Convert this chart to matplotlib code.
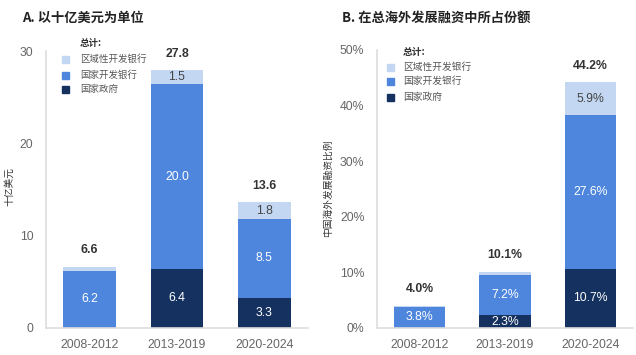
import matplotlib
matplotlib.use("Agg")
import matplotlib.pyplot as plt
from matplotlib.patches import Rectangle
import numpy as np

plt.rcParams['font.family'] = ['Liberation Sans', 'Noto Sans CJK SC', 'DejaVu Sans']
CJK = ['Noto Sans CJK SC', 'DejaVu Sans']

periods = ["2008-2012", "2013-2019", "2020-2024"]
series_names = ["区域性开发银行", "国家开发银行", "国家政府"]

# Panel A: billions USD
a_gov = [0.0, 6.4, 3.3]
a_dev = [6.2, 20.0, 8.5]
a_reg = [0.4, 1.5, 1.8]
a_tot = [6.6, 27.8, 13.6]

# Panel B: share of total overseas development finance (%)
b_gov = [0.0, 2.3, 10.7]
b_dev = [3.8, 7.2, 27.6]
b_reg = [0.2, 0.6, 5.9]
b_tot = [4.0, 10.1, 44.2]

c_reg = "#c3d7f2"
c_dev = "#4d86dc"
c_gov = "#15315f"
tick_col = "#666666"
spine_col = "#dddddd"

W, H = 636, 355
fig = plt.figure(figsize=(W/100, H/100), dpi=100)

def px(x0, y0, x1, y1):
    return [x0/W, 1 - y1/H, (x1-x0)/W, (y1-y0)/H]

axA = fig.add_axes(px(46, 51, 308, 328))
axB = fig.add_axes(px(377, 50, 633, 328))

def draw(ax, gov, dev, reg, tot, ymax, yticks, fmt, min_lab):
    x = np.arange(len(periods))
    w = 0.6
    gov = np.array(gov); dev = np.array(dev); reg = np.array(reg)
    ax.bar(x, gov, w, color=c_gov)
    ax.bar(x, dev, w, bottom=gov, color=c_dev)
    ax.bar(x, reg, w, bottom=gov+dev, color=c_reg)
    for i in range(len(x)):
        for val, base, col in [(gov[i], 0, 'white'), (dev[i], gov[i], 'white'),
                               (reg[i], gov[i]+dev[i], '#444444')]:
            if val >= min_lab:
                ax.text(x[i], base + val/2, fmt(val), ha='center', va='center',
                        color=col, fontsize=8.8)
        top = gov[i] + dev[i] + reg[i]
        ax.annotate(fmt(tot[i]), (x[i], top), xytext=(0, 12), textcoords='offset points',
                    ha='center', va='center', fontsize=8.8, fontweight='bold', color='#333333')
    ax.set_xlim(-0.5, 2.5)
    ax.set_ylim(0, ymax)
    ax.set_yticks(yticks)
    ax.set_xticks(x)
    ax.set_xticklabels(periods)
    ax.tick_params(length=0, colors=tick_col, labelsize=8.8)
    ax.tick_params(axis='y', pad=9)
    ax.tick_params(axis='x', pad=8)
    for s in ['top', 'right']:
        ax.spines[s].set_visible(False)
    for s in ['left', 'bottom']:
        ax.spines[s].set_color(spine_col)
        ax.spines[s].set_linewidth(1.2)

draw(axA, a_gov, a_dev, a_reg, a_tot, 30, [0, 10, 20, 30], lambda v: f"{v:.1f}", 1.0)
draw(axB, b_gov, b_dev, b_reg, b_tot, 50, [0, 10, 20, 30, 40, 50], lambda v: f"{v:.1f}%", 1.0)
axB.set_yticklabels([f"{t}%" for t in [0, 10, 20, 30, 40, 50]])

# titles
fig.text(22/W, 1-18/H, "A. 以十亿美元为单位", family=CJK, fontsize=9.5, fontweight='bold',
         color='#222222', va='center', ha='left')
fig.text(342/W, 1-18/H, "B. 在总海外发展融资中所占份额", family=CJK, fontsize=9.5, fontweight='bold',
         color='#222222', va='center', ha='left')

# y labels
fig.text(9/W, 1-186/H, "十亿美元", family=CJK, fontsize=7, rotation=90,
         color='#333333', va='center', ha='center')
fig.text(328/W, 1-188/H, "中国海外发展融资比例", family=CJK, fontsize=7, rotation=90,
         color='#333333', va='center', ha='center')

# legends
def legend(x_sq, x_txt, y_head, ys, fs, sq):
    fig.text(x_txt/W, 1-y_head/H, "总计:", family=CJK, fontsize=fs, fontweight='bold',
             color='#333333', va='center', ha='left')
    for name, col, y in zip(series_names, [c_reg, c_dev, c_gov], ys):
        fig.patches.append(Rectangle((x_sq/W, 1-(y+sq/2)/H), sq/W, sq/H,
                                     transform=fig.transFigure, color=col, figure=fig))
        fig.text(x_txt/W, 1-y/H, name, family=CJK, fontsize=fs, color='#555555',
                 va='center', ha='left')

legend(62, 80, 43, [59, 75, 89], 6.8, 7)
legend(387, 403, 52, [67, 81, 97], 7, 7)

fig.savefig("out.png", dpi=100, facecolor='white')
